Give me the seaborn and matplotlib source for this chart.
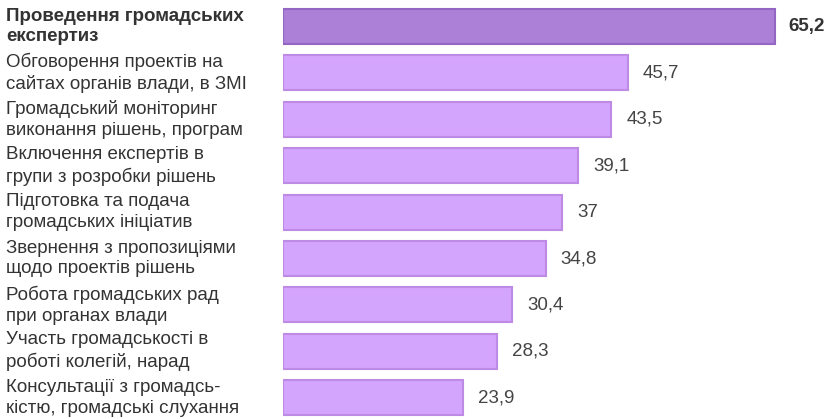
import matplotlib
matplotlib.use("Agg")
import matplotlib.pyplot as plt
import matplotlib.transforms as mtransforms
import seaborn as sns
import pandas as pd

categories = [
    "Проведення громадських\nекспертиз",
    "Обговорення проектів на\nсайтах органів влади, в ЗМІ",
    "Громадський моніторинг\nвиконання рішень, програм",
    "Включення експертів в\nгрупи з розробки рішень",
    "Підготовка та подача\nгромадських ініціатив",
    "Звернення з пропозиціями\nщодо проектів рішень",
    "Робота громадських рад\nпри органах влади",
    "Участь громадськості в\nроботі колегій, нарад",
    "Консультації з громадсь-\nкістю, громадські слухання",
]
values = [65.2, 45.7, 43.5, 39.1, 37, 34.8, 30.4, 28.3, 23.9]
value_labels = ["65,2", "45,7", "43,5", "39,1", "37", "34,8", "30,4", "28,3", "23,9"]

sns.set_theme(style="white")
plt.rcParams["font.family"] = ["Liberation Sans", "DejaVu Sans"]

W, H = 830, 419
fig = plt.figure(figsize=(W / 100, H / 100), dpi=100)
ax = fig.add_axes([283 / W, 0, 1 - 283 / W, 1])

df = pd.DataFrame({"cat": categories, "val": values})
fills = ["#ab80d6"] + ["#d4a5fd"] * 8
edges = ["#9466c3"] + ["#bd8ae6"] * 8
sns.barplot(data=df, x="val", y="cat", hue="cat", palette=fills, legend=False,
            width=0.755, ax=ax, orient="h", saturation=1)
for p, e in zip(ax.patches, edges):
    p.set_edgecolor(e)
    p.set_linewidth(1.5)

ax.set_xlim(0, (W - 283) / 7.546)
ax.set_ylim((H - 26.5) / 46.4, -26.5 / 46.4)
ax.set_axis_off()

trans = mtransforms.blended_transform_factory(fig.transFigure, ax.transData)
for i, (c, v, vl) in enumerate(zip(categories, values, value_labels)):
    bold = i == 0
    ax.text(6 / W, i, c, transform=trans, ha="left", va="center",
            fontsize=13.5, color="#333333", linespacing=1.3,
            fontweight="bold" if bold else "normal")
    ax.text(v + (13 if bold else 15) / 7.546, i, vl, ha="left", va="center",
            fontsize=13.5, color="#333333" if bold else "#444444",
            fontweight="bold" if bold else "normal")

fig.savefig("out.png", dpi=100)
